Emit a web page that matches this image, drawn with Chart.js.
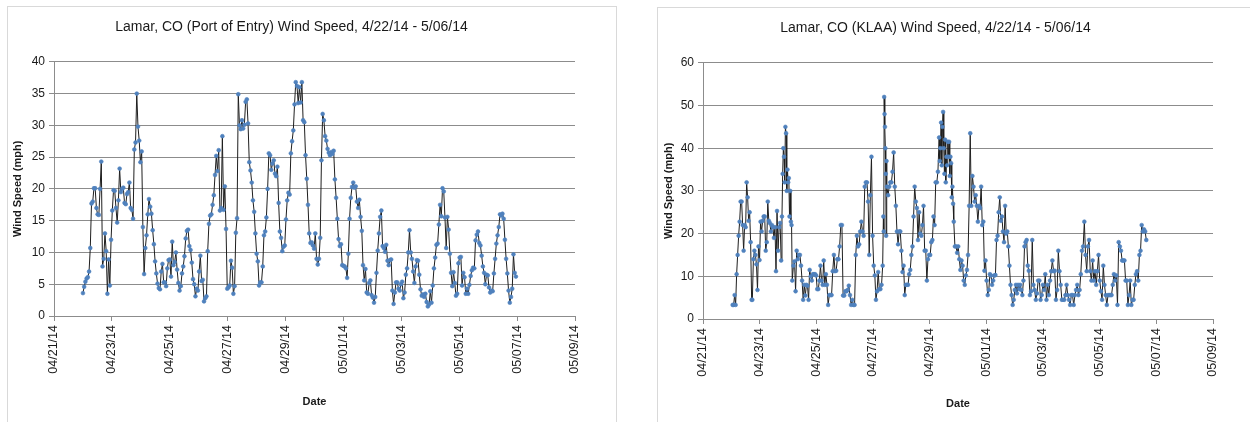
<!DOCTYPE html>
<html>
<head>
<meta charset="utf-8">
<script src="https://cdn.jsdelivr.net/npm/chart.js@4.4.1/dist/chart.umd.min.js"></script>
<style>
  html, body { margin: 0; padding: 0; background: #fff; }
  body { width: 1250px; height: 422px; position: relative; overflow: hidden; }
  .box { position: absolute; border: 1px solid #d9d9d9; background: #fff; }
  #box1 { left: 7px; top: 6px; }
  #box2 { left: 657px; top: 7px; }
  canvas { display: block; }
</style>
</head>
<body>
<div class="box" id="box1"><canvas id="portChart" width="608" height="416"></canvas></div>
<div class="box" id="box2"><canvas id="klaaChart" width="592" height="415"></canvas></div>
<script>
// x axis is days since 04/21/14, ticks every 2 days
const dateTicks = ['04/21/14', '04/23/14', '04/25/14', '04/27/14', '04/29/14',
  '05/01/14', '05/03/14', '05/05/14', '05/07/14', '05/09/14'];

// Port of Entry: hourly readings, 4/22 00:00 -> 5/06 23:00
const portStartHour = 0;
const portEndHour = 359;
const portSpeed = [
  3.6, 4.6, 5.4, 5.9, 6.1, 7.0, 10.7, 17.7, 18.0, 20.1, 20.1, 17.0, 16.0, 15.9, 20.0, 24.3, 7.8, 9.0, 13.0, 10.2, 3.5, 8.9, 4.8, 12.0,
  16.6, 19.8, 19.7, 17.0, 14.7, 18.2, 23.2, 19.5, 20.0, 20.2, 17.8, 17.6, 19.2, 19.5, 21.0, 17.0, 16.7, 15.3, 26.2, 27.3, 35.0, 29.8, 27.6, 24.2,
  25.9, 14.0, 6.6, 10.7, 12.7, 16.0, 18.4, 17.2, 16.1, 13.5, 11.3, 8.6, 6.7, 5.1, 4.4, 4.2, 7.0, 8.2, 5.3, 5.3, 4.7, 7.5, 8.8, 8.9,
  6.2, 11.7, 8.0, 8.5, 10.0, 7.3, 5.2, 4.0, 4.7, 6.7, 7.8, 9.4, 12.2, 13.4, 13.6, 11.0, 10.4, 8.4, 5.8, 5.0, 3.1, 4.3, 4.0, 7.0,
  9.5, 5.5, 5.7, 2.3, 2.8, 3.1, 10.2, 14.5, 15.8, 16.0, 17.5, 19.0, 22.2, 25.2, 22.8, 26.1, 16.6, 17.0, 28.3, 16.7, 20.4, 13.7,
  4.3, 4.5, 4.8, 8.7, 7.6, 3.5, 4.7, 13.1, 15.4, 34.9, 30.0, 29.4, 30.8, 29.5, 30.1, 33.7, 34.1, 30.3, 24.2, 22.9, 21.0, 18.2, 16.4, 13.0,
  9.8, 8.6, 4.8, 5.3, 5.3, 7.8, 12.7, 13.3, 15.5, 20.0, 25.6, 25.3, 23.0, 24.0, 24.5, 22.4, 22.0, 23.5, 17.8, 13.3, 12.3, 10.2, 10.9, 11.1,
  15.2, 18.2, 19.4, 19.1, 25.6, 27.5, 29.2, 33.3, 36.8, 36.2, 33.5, 36.0, 33.6, 36.8, 30.8, 30.5, 25.3, 21.6, 17.5, 13.0, 11.5, 11.6, 11.1, 10.6,
  13.0, 9.0, 8.1, 9.0, 12.3, 24.5, 31.8, 30.8, 28.3, 27.6, 26.3, 25.7, 25.3, 25.8, 25.5, 26.0, 21.5, 18.6, 15.3, 12.1, 11.0, 11.3,
  8.0, 7.9, 7.8, 7.5, 6.0, 9.8, 15.3, 18.6, 20.3, 21.0, 20.2, 20.4, 18.0, 17.0, 18.3, 15.6, 13.4, 8.0, 5.6, 7.4, 3.7, 3.5, 5.2, 5.6,
  3.3, 2.9, 2.1, 3.0, 6.8, 10.3, 13.0, 15.6, 16.6, 11.0, 10.7, 10.1, 11.2, 8.7, 8.0, 8.8, 8.9, 4.0, 1.9, 3.7, 5.3, 5.3, 4.3, 4.0,
  5.0, 5.4, 2.8, 3.7, 6.5, 7.5, 10.0, 13.5, 10.0, 9.0, 7.0, 5.2, 7.8, 8.8, 8.7, 6.5, 4.2, 3.2, 3.4, 3.0, 3.5, 2.2, 1.5, 1.8,
  3.9, 2.1, 4.8, 7.5, 9.2, 11.2, 11.4, 14.4, 17.5, 15.7, 20.1, 19.6, 15.5, 10.7, 15.6, 13.6, 9.8, 6.8, 4.7, 6.9, 5.2, 3.2, 3.5, 8.3,
  9.2, 9.3, 4.8, 6.8, 6.1, 3.5, 4.3, 3.5, 4.9, 6.3, 7.2, 7.6, 7.5, 11.9, 12.8, 13.3, 11.5, 11.1, 9.5, 7.8, 6.8, 5.0, 6.5, 6.4,
  4.5, 3.7, 4.0, 3.9, 6.7, 9.0, 11.4, 12.7, 14.0, 16.0, 15.8, 16.1, 15.3, 12.0, 9.0, 6.7, 4.0, 2.1, 3.0, 4.3, 9.7, 6.8, 6.2
];

// KLAA: readings are irregular (extra obs in gusty spells), kept as runs
// each run spans klaaSegStart..klaaSegEnd (hours after 4/22 00:00)
const klaaSegStart = [1.1, 17.8, 42.9, 52.6, 82.0, 105.4, 128.8, 132.8, 176.0, 189.4, 222.8, 253.9, 291.0, 328.1];
const klaaSegEnd   = [17.2, 42.2, 51.6, 81.0, 104.4, 128.2, 131.8, 175.0, 188.4, 221.8, 252.9, 290.0, 327.1, 351.5];
const klaaSpeed = [
  [3.3, 3.3, 5.6, 3.3, 10.5, 15, 19.5, 22.8, 27.5, 27.5, 22, 16, 22, 21.5, 32, 28.5, 23, 25, 18, 4.5],
  [4.5, 14, 16, 15, 12.8, 6.8, 17, 13.8, 22.8, 20.5, 23, 24, 24, 16, 18, 27.5, 23, 22.5, 20.5, 22, 21.5, 19, 21.5, 11.2, 25.3, 16, 21.5, 22.5, 13.7],
  [24, 34, 40, 38, 32, 45, 43.5, 30, 35, 32, 33, 24, 30, 22.8, 22, 9],
  [12.5, 13.5, 6.5, 16, 14, 15, 15, 12.5, 9, 4.5, 8, 5.5, 8, 7.8, 4.5, 11.5, 10, 9, 10.5, 10.5, 10.5, 10.2, 7, 7, 9, 12.5, 9, 8, 13.7, 8, 10.5, 8],
  [3.3, 5.6, 5.6, 5.6, 11.2, 15, 11.2, 11.3, 14, 14, 17, 22, 22, 5.5, 5.5, 6.5, 6.5, 6.8, 7.8, 5.6, 3.3, 4.5, 3.3, 3.3],
  [15, 19.5, 17, 17.5, 20.5, 22.8, 20.5, 19.5, 31, 32, 32, 27.5, 15, 29, 38, 19.5, 12.5, 10.2, 4.5, 6.5, 11, 7, 7, 8, 12.5],
  [24, 20.5, 52, 48, 45, 40, 34, 19.5, 37, 31],
  [29, 31, 32, 32, 34.5, 39, 31, 26.5, 20.5, 17.5, 20.5, 20.5, 16, 11, 12.5, 5.6, 8, 8, 8, 10.5, 11.5, 15, 17, 24, 31, 27.5, 26, 18.5, 25, 20, 19.5, 22, 26.5, 16, 16, 9, 14, 15, 15, 18, 18.5, 24, 22, 32, 32, 34.5],
  [42.5, 37, 40, 46, 36, 45, 48.5, 40, 34, 42, 32, 38, 36, 41.5, 38, 41.5, 33.5, 38, 36.5, 28.5, 31, 27, 22.8],
  [17, 17, 15.5, 17, 14, 11.5, 13.7, 12.5, 9, 8, 10.2, 11.5, 15, 26.5, 43.5, 26.5, 33.5, 31, 27.5, 29, 26.5, 22.8, 26.5, 26, 31, 22, 22.8, 11.3, 13.7, 9, 5.6, 6.8, 10.5, 10.2, 8, 9],
  [10.2, 10.3, 18.5, 19.5, 25, 28.5, 23, 24, 20.5, 18, 26.5, 20, 20.5, 17, 12.5, 8, 5.6, 3.3, 4.5, 6.8, 8, 6, 8, 7, 8, 6.8, 5.6, 9, 17, 18, 18.5, 12.5, 11.3, 5.6],
  [6.5, 18.5, 8, 6.8, 4.5, 6, 9, 9, 4.5, 5.6, 8, 6.8, 10.5, 4.5, 8, 5.6, 9, 11.2, 13.7, 11.2, 11.3, 4.5, 6.8, 16, 11.2, 8, 4.5, 4.5, 4.5, 5.6, 8, 5.6, 4.5, 3.3, 5.6, 5.6, 3.3],
  [5.6, 6.8, 8, 5.6, 6.8, 10.5, 16, 17, 22.8, 15, 11.2, 17, 18.5, 11.2, 9, 13.7, 9, 11.2, 8, 11.2, 15, 9, 6.5, 4.5, 12.5, 8, 5.6, 3.3, 5.6, 5.6, 5.6, 5.6, 8, 10.5, 9, 10.2, 3.3],
  [18, 17, 16, 13.7, 13.7, 13.7, 9, 9, 3.3, 5.6, 9, 3.3, 4.5, 4.5, 8, 10.5, 11.2, 9, 15, 16, 22, 20.5, 21, 20.5, 18.5]
];

const FONT = "'Liberation Sans', Arial, sans-serif";
const GRID = '#8c8c8c';
const TEXT = '#1a1a1a';

// hours after 4/22 -> days after 4/21
function toDay(h) { return 1 + h / 24; }

const portPoints = portSpeed.map((v, i) => ({
  x: toDay(portStartHour + i * (portEndHour - portStartHour) / (portSpeed.length - 1)),
  y: v
}));

const klaaPoints = [];
klaaSpeed.forEach((run, s) => {
  run.forEach((v, i) => {
    const h = run.length > 1
      ? klaaSegStart[s] + i * (klaaSegEnd[s] - klaaSegStart[s]) / (run.length - 1)
      : klaaSegStart[s];
    klaaPoints.push({ x: toDay(h), y: v });
  });
});

function makeChart(id, title, points, yMax, yStep, opts) {
  new Chart(document.getElementById(id), {
    type: 'line',
    data: {
      datasets: [{
        data: points,
        borderColor: '#1e1e1e',
        borderWidth: 1,
        pointRadius: 1.9,
        pointBackgroundColor: '#4f81bd',
        pointBorderColor: '#4f81bd',
        pointBorderWidth: 0.6,
        tension: 0
      }]
    },
    options: {
      responsive: false,
      animation: false,
      devicePixelRatio: 1,
      layout: { padding: { left: 0, right: opts.right, top: 0, bottom: 0 } },
      plugins: {
        legend: { display: false },
        tooltip: { enabled: false },
        title: {
          display: true,
          text: title,
          color: TEXT,
          font: { family: FONT, size: 14, weight: 'normal' },
          padding: { top: 12, bottom: 26 }
        }
      },
      scales: {
        x: {
          type: 'linear',
          min: 0,
          max: 18,
          afterFit: s => { s.height = opts.xh; },
          grid: { color: 'rgba(0,0,0,0)', tickColor: GRID, tickLength: 5, drawOnChartArea: false },
          border: { color: GRID },
          ticks: {
            stepSize: 2,
            autoSkip: false,
            maxRotation: 90,
            minRotation: 90,
            padding: 4,
            color: TEXT,
            font: { family: FONT, size: 12.5 },
            callback: v => dateTicks[Math.round(v / 2)]
          },
          title: {
            display: true,
            text: 'Date',
            color: TEXT,
            font: { family: FONT, size: 11, weight: 'bold' },
            padding: { top: 0, bottom: opts.dateBottom }
          }
        },
        y: {
          min: 0,
          max: yMax,
          afterFit: s => { s.width = opts.yw; },
          grid: { color: GRID, tickColor: GRID, tickLength: 5 },
          border: { color: GRID },
          ticks: {
            stepSize: yStep,
            padding: 4,
            color: TEXT,
            font: { family: FONT, size: 12 }
          },
          title: {
            display: true,
            text: 'Wind Speed (mph)',
            color: TEXT,
            font: { family: FONT, size: 11, weight: 'bold' },
            padding: { top: opts.yTitleTop, bottom: 0 }
          }
        }
      }
    }
  });
}

makeChart('portChart', 'Lamar, CO (Port of Entry) Wind Speed, 4/22/14 - 5/06/14',
  portPoints, 40, 5, { right: 41, yw: 46, xh: 107, dateBottom: 14, yTitleTop: 3 });

makeChart('klaaChart', 'Lamar, CO (KLAA) Wind Speed, 4/22/14 - 5/06/14',
  klaaPoints, 60, 10, { right: 37, yw: 45, xh: 104, dateBottom: 12, yTitleTop: 4 });
</script>
</body>
</html>
